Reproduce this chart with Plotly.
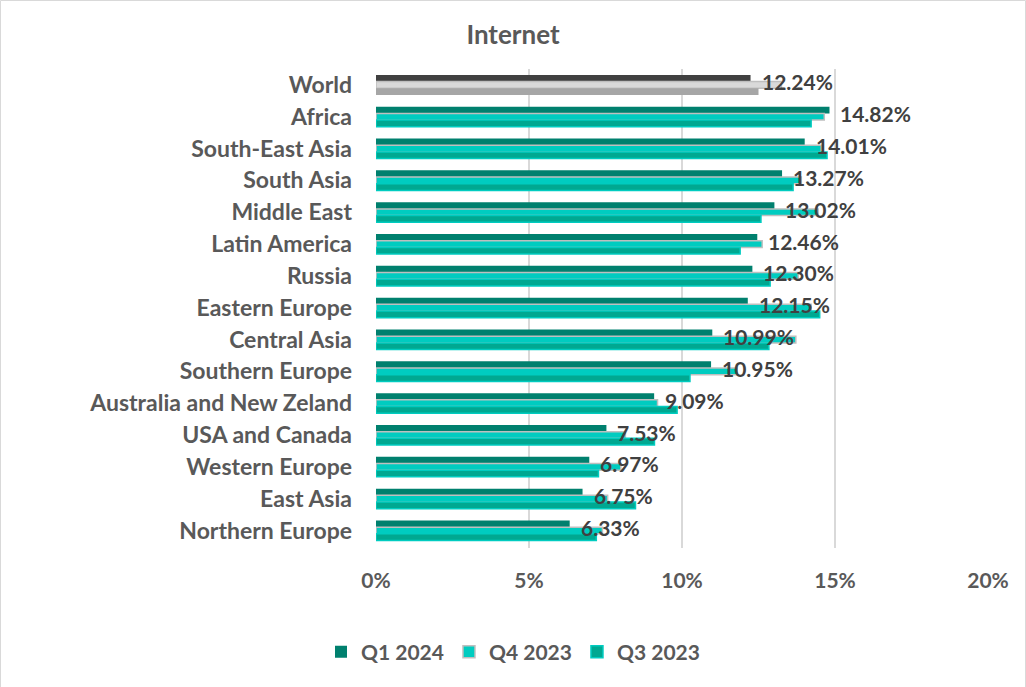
import plotly.graph_objects as go

categories = ["World", "Africa", "South-East Asia", "South Asia", "Middle East",
              "Latin America", "Russia", "Eastern Europe", "Central Asia",
              "Southern Europe", "Australia and New Zeland", "USA and Canada",
              "Western Europe", "East Asia", "Northern Europe"]
q1_2024 = [12.24, 14.82, 14.01, 13.27, 13.02, 12.46, 12.30, 12.15, 10.99,
           10.95, 9.09, 7.53, 6.97, 6.75, 6.33]
q4_2023 = [13.25, 14.65, 14.55, 13.90, 14.45, 12.62, 13.80, 14.22, 13.72,
           11.80, 9.20, 8.15, 8.00, 7.57, 7.40]
q3_2023 = [12.50, 14.22, 14.74, 13.63, 12.58, 11.90, 12.88, 14.50, 12.84,
           10.26, 9.84, 9.10, 7.27, 8.48, 7.20]
series_names = ["Q1 2024", "Q4 2023", "Q3 2023"]
x_ticks = [0, 5, 10, 15, 20]
x_tick_labels = ["0%", "5%", "10%", "15%", "20%"]

FONT = "Lato"
GREY_TXT = "#595959"

W, H = 1026, 687
ML, MR, MT, MB = 376, 38, 69, 139

region_styles = [
    dict(color="#00806E", line=dict(color="#00806E", width=0)),
    dict(color="#00CCC0", line=dict(color="#BFBFBF", width=1.5)),
    dict(color="#00A891", line=dict(color="#00CCC0", width=1.5)),
]
world_styles = [
    dict(color="#404040", line=dict(color="#404040", width=0)),
    dict(color="#D9D9D9", line=dict(color="#BFBFBF", width=1.5)),
    dict(color="#A6A6A6", line=dict(color="#A6A6A6", width=0)),
]

fig = go.Figure()
all_series = [q1_2024, q4_2023, q3_2023]
for i, (name, vals) in enumerate(zip(series_names, all_series)):
    fig.add_trace(go.Bar(
        y=categories[1:], x=vals[1:], orientation="h", name=name,
        marker=region_styles[i], offsetgroup=str(i), legendrank=i + 1,
        hoverinfo="skip",
    ))
    fig.add_trace(go.Bar(
        y=categories[:1], x=vals[:1], orientation="h", name=name,
        marker=world_styles[i], offsetgroup=str(i), showlegend=False,
        hoverinfo="skip",
    ))

for cat, v in zip(categories, q1_2024):
    fig.add_annotation(
        x=v, y=cat, xref="x", yref="y", text=f"{v:.2f}%", showarrow=False,
        xanchor="left", yanchor="middle", xshift=9, yshift=3,
        font=dict(family=FONT, size=21, color="#404040", weight="bold"),
    )

pw = W - ML - MR
ph = H - MT - MB
fig.add_shape(
    type="rect", xref="paper", yref="paper",
    x0=(0.5 - ML) / pw, x1=(W - 0.5 - ML) / pw,
    y0=(MB - H + 0.5) / ph, y1=(H - 0.5 - MB) / ph,
    line=dict(color="#D9D9D9", width=1), fillcolor="rgba(0,0,0,0)", layer="below",
)

fig.update_layout(
    width=W, height=H,
    margin=dict(l=ML, r=MR, t=MT, b=MB, autoexpand=False),
    paper_bgcolor="white", plot_bgcolor="white",
    barmode="group", bargap=0.37, bargroupgap=0,
    title=dict(text="Internet", x=513 / W, xanchor="center", y=1 - 35 / H,
               yanchor="middle", xref="container", yref="container",
               font=dict(family=FONT, size=26, color=GREY_TXT, weight="bold")),
    legend=dict(orientation="h", x=(513 - ML) / pw, xanchor="center",
                y=-(652 - (H - MB)) / ph, yanchor="middle",
                font=dict(family=FONT, size=21, color=GREY_TXT, weight="bold"),
                itemwidth=30, traceorder="normal"),
    xaxis=dict(range=[0, 20], tickvals=x_ticks, ticktext=x_tick_labels,
               showgrid=True, gridcolor="#D9D9D9", gridwidth=1.5,
               zeroline=False, showline=False, ticks="",
               ticklabelstandoff=18,
               tickfont=dict(family=FONT, size=21, color=GREY_TXT, weight="bold")),
    yaxis=dict(autorange="reversed", categoryorder="array", categoryarray=categories,
               showgrid=False, zeroline=False, showline=False, ticks="",
               ticklabelstandoff=23,
               tickfont=dict(family=FONT, size=23, color=GREY_TXT, weight="bold")),
)

fig.write_html("out.html", config={"displayModeBar": False},
               post_script="document.body.style.margin='0';")
